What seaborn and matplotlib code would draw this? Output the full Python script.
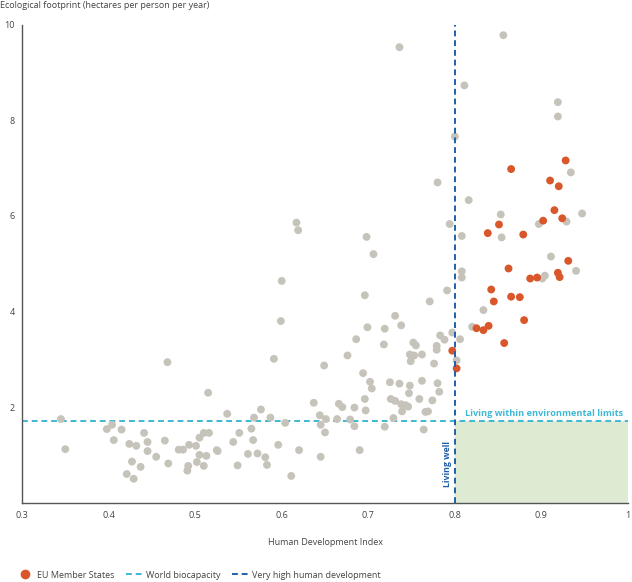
import seaborn as sns
from matplotlib import pyplot as plt
from matplotlib.lines import Line2D
from matplotlib.patches import Rectangle
import pandas as pd

## DATA
eu_hdi = [0.928, 0.865, 0.910, 0.920, 0.915, 0.902, 0.924, 0.851, 0.838, 0.879,
          0.931, 0.862, 0.919, 0.921, 0.887, 0.895, 0.842, 0.865, 0.875, 0.845,
          0.880, 0.825, 0.839, 0.833, 0.857, 0.797, 0.802]
eu_footprint = [7.16, 6.98, 6.74, 6.62, 6.12, 5.90, 5.95, 5.82, 5.64, 5.61,
                5.06, 4.90, 4.81, 4.72, 4.69, 4.71, 4.46, 4.31, 4.30, 4.21,
                3.82, 3.65, 3.70, 3.61, 3.34, 3.18, 2.81]

other_hdi = [0.856, 0.736, 0.811, 0.919, 0.919, 0.800, 0.780, 0.934, 0.816, 0.853,
             0.947, 0.794, 0.808, 0.854, 0.897, 0.929, 0.911, 0.940, 0.808, 0.808,
             0.901, 0.904, 0.791, 0.771, 0.833, 0.820, 0.783, 0.788, 0.797, 0.806,
             0.802, 0.617, 0.619, 0.698, 0.706, 0.600, 0.696, 0.599, 0.731, 0.738,
             0.699, 0.719, 0.686, 0.718, 0.752, 0.755, 0.779, 0.779, 0.748, 0.753,
             0.762, 0.749, 0.776, 0.676, 0.591, 0.649, 0.694, 0.702, 0.704, 0.725,
             0.736, 0.748, 0.762, 0.780, 0.747, 0.782, 0.696, 0.726, 0.731, 0.738,
             0.743, 0.746, 0.759, 0.774, 0.637, 0.666, 0.670, 0.684, 0.697, 0.739,
             0.766, 0.769, 0.644, 0.651, 0.664, 0.679, 0.729, 0.645, 0.650, 0.684,
             0.719, 0.764, 0.604, 0.587, 0.576, 0.568, 0.565, 0.537, 0.515, 0.551,
             0.510, 0.516, 0.620, 0.645, 0.690, 0.345, 0.350, 0.398, 0.404, 0.415,
             0.406, 0.424, 0.432, 0.441, 0.445, 0.445, 0.427, 0.437, 0.421, 0.429,
             0.455, 0.468, 0.465, 0.469, 0.481, 0.486, 0.493, 0.491, 0.492, 0.501,
             0.502, 0.505, 0.505, 0.510, 0.513, 0.525, 0.526, 0.544, 0.549, 0.561,
             0.567, 0.572, 0.581, 0.583, 0.596, 0.611]
other_footprint = [9.78, 9.53, 8.73, 8.38, 8.08, 7.66, 6.70, 6.91, 6.33, 6.03,
                   6.05, 5.83, 5.58, 5.55, 5.83, 5.88, 5.15, 4.85, 4.84, 4.71,
                   4.69, 4.75, 4.44, 4.21, 4.03, 3.68, 3.50, 3.41, 3.56, 3.42,
                   2.98, 5.86, 5.70, 5.56, 5.20, 4.64, 4.34, 3.80, 3.91, 3.71,
                   3.67, 3.64, 3.42, 3.31, 3.35, 3.29, 3.28, 3.20, 3.10, 3.08,
                   3.10, 2.96, 2.91, 3.08, 3.01, 2.87, 2.71, 2.53, 2.39, 2.52,
                   2.49, 2.45, 2.55, 2.50, 2.29, 2.32, 2.17, 2.17, 2.13, 2.06,
                   2.04, 2.01, 2.17, 2.14, 2.09, 2.07, 2.00, 1.99, 1.93, 1.91,
                   1.90, 1.91, 1.83, 1.75, 1.75, 1.74, 1.77, 1.63, 1.47, 1.60,
                   1.59, 1.53, 1.67, 1.78, 1.95, 1.78, 1.55, 1.86, 2.30, 1.46,
                   1.46, 1.46, 1.10, 0.96, 1.10, 1.75, 1.12, 1.54, 1.63, 1.53,
                   1.31, 1.23, 1.19, 1.46, 1.27, 1.08, 0.86, 0.75, 0.60, 0.50,
                   0.96, 2.94, 1.30, 0.82, 1.11, 1.11, 1.21, 0.67, 0.77, 1.19,
                   0.85, 1.36, 1.00, 0.77, 0.98, 1.10, 1.08, 1.27, 0.78, 1.02,
                   1.31, 1.03, 0.95, 0.79, 1.21, 0.56]

world_biocapacity = 1.7
very_high_hdi = 0.8
x_ticks = [0.3, 0.4, 0.5, 0.6, 0.7, 0.8, 0.9, 1.0]
x_ticklabels = ["0.3", "0.4", "0.5", "0.6", "0.7", "0.8", "0.9", "1"]
y_ticks = [0, 2, 4, 6, 8, 10]
y_ticklabels = ["", "2", "4", "6", "8", "10"]

GREY = "#c6c4ba"
RED = "#d9582b"
CYAN = "#3fb8d3"
BLUE = "#1f5fa8"
AXIS = "#555555"
FS = 6.5

sns.set_style('white')
plt.rcParams['font.family'] = ['Open Sans', 'DejaVu Sans']
plt.rcParams['text.color'] = '#444444'

df = pd.concat([
    pd.DataFrame({'hdi': other_hdi, 'footprint': other_footprint, 'group': 'Other countries'}),
    pd.DataFrame({'hdi': eu_hdi, 'footprint': eu_footprint, 'group': 'EU Member States'}),
], ignore_index=True)

fig = plt.figure(figsize=(6.32, 5.82), dpi=100)
ax = fig.add_axes([22 / 632, 1 - 502.7 / 582, 606 / 632, 478 / 582])

## green "living well within limits" box
ax.add_patch(Rectangle((very_high_hdi, 0), 1.0 - very_high_hdi, world_biocapacity,
                       facecolor="#dfead3", edgecolor="none", zorder=0))

sns.scatterplot(data=df, x='hdi', y='footprint', hue='group',
                palette={'Other countries': GREY, 'EU Member States': RED},
                s=32, linewidth=0, legend=False, ax=ax, zorder=3)

ax.axhline(world_biocapacity, color=CYAN, lw=1.4, ls=(0, (3, 2)), zorder=2)
ax.axvline(very_high_hdi, color=BLUE, lw=1.4, ls=(0, (3, 2)), zorder=4)

ax.text(0.812, 1.87, "Living within environmental limits", color=CYAN,
        fontsize=6.6, fontweight='bold', ha='left', va='center')
ax.text(0.7915, 0.32, "Living well", color=BLUE, fontsize=6.3, fontweight='bold',
        rotation=90, ha='center', va='bottom')

ax.set_xlim(0.3, 1.0)
ax.set_ylim(0, 10)
ax.set_xticks(x_ticks)
ax.set_xticklabels(x_ticklabels)
ax.set_yticks(y_ticks)
ax.set_yticklabels(y_ticklabels)
ax.tick_params(axis='both', length=4, width=1, color=AXIS, labelsize=FS,
               labelcolor='#444444', pad=2, direction='out')
ax.tick_params(axis='y', pad=1)
sns.despine(ax=ax)
for sp in ['left', 'bottom']:
    ax.spines[sp].set_color(AXIS)
    ax.spines[sp].set_linewidth(1)

ax.set_xlabel("Human Development Index", fontsize=FS, color='#444444', labelpad=13)
ax.set_ylabel("")
fig.text(0, 1 - 6 / 582, "Ecological footprint (hectares per person per year)",
         fontsize=FS, ha='left', va='center', color='#444444')

handles = [
    Line2D([], [], marker='o', color=RED, ls='none', markersize=6),
    Line2D([], [], color=CYAN, lw=1.4, ls=(0, (3, 2))),
    Line2D([], [], color=BLUE, lw=1.4, ls=(0, (3, 2))),
]
labels = ["EU Member States", "World biocapacity", "Very high human development"]
fig.legend(handles, labels, loc='center left', bbox_to_anchor=(0.027, 1 - 575 / 582),
           ncol=3, frameon=False, fontsize=FS, handlelength=1.8, handletextpad=0.4,
           columnspacing=1.3, borderaxespad=0, borderpad=0)

fig.savefig("out.png", dpi=100)
